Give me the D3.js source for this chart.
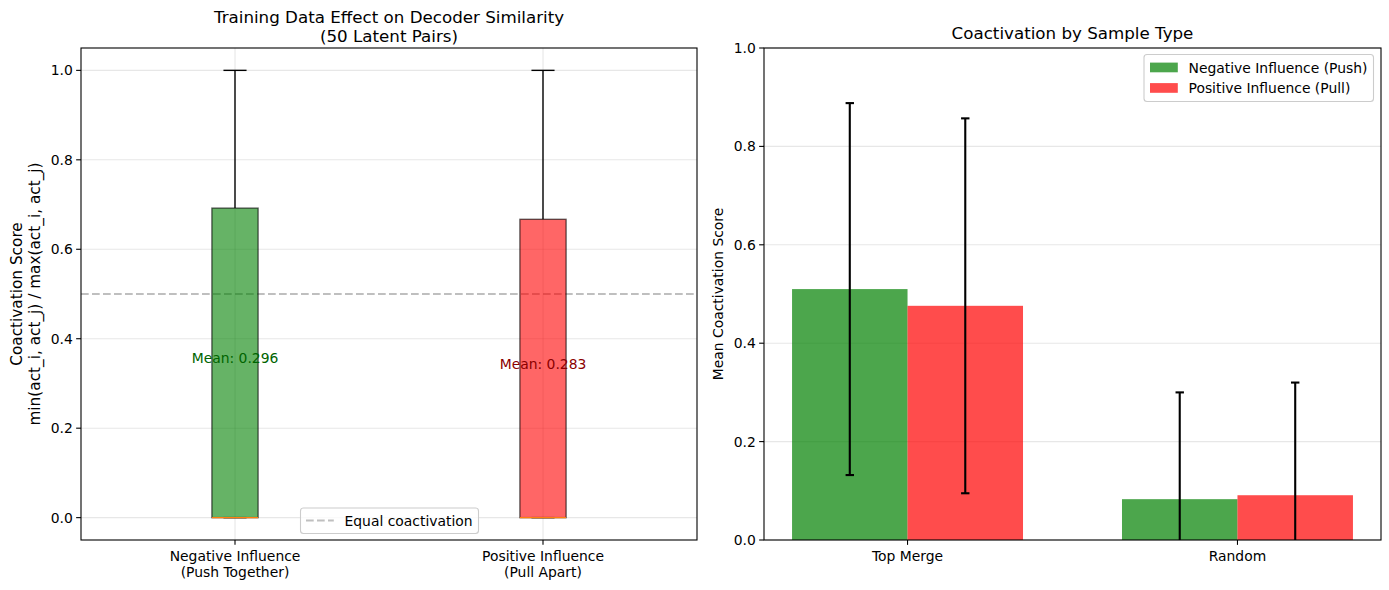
<!DOCTYPE html>
<html><head><meta charset="utf-8">
<script src="https://cdn.jsdelivr.net/npm/d3@7"></script>
<style>
html,body{margin:0;padding:0;background:#fff;}
text{font-family:"DejaVu Sans",sans-serif;fill:#000;}
</style></head>
<body>
<svg id="chart" width="1389" height="590"></svg>
<script>
// ---- Data ----
const boxCategories = [["Negative Influence","(Push Together)"],["Positive Influence","(Pull Apart)"]];
const boxQ1 = [0, 0];
const boxMedian = [0, 0];
const boxQ3 = [0.692, 0.667];
const whiskerLow = [0, 0];
const whiskerHigh = [1.0, 1.0];
const boxMeans = [0.296, 0.283];
const boxFill = ["green", "red"];
const meanColors = ["darkgreen", "darkred"];
const referenceLine = 0.5;

const barCategories = ["Top Merge", "Random"];
const negMeans = [0.510, 0.083];
const negStd = [0.378, 0.217];
const posMeans = [0.476, 0.091];
const posStd = [0.381, 0.229];
const seriesNames = ["Negative Influence (Push)", "Positive Influence (Pull)"];
const leftTicks = [0, 0.2, 0.4, 0.6, 0.8, 1.0];
const rightTicks = [0, 0.2, 0.4, 0.6, 0.8, 1.0];

// ---- Layout ----
const svg = d3.select("#chart");
const L = {x0: 81, x1: 697, y0: 48, y1: 540};
const R = {x0: 764, x1: 1381, y0: 48, y1: 540};
const tickFs = 13.9, titleFs = 16.7;
const gridColor = "#b0b0b0";

function spines(g, P){
  g.append("rect").attr("x",P.x0).attr("y",P.y0).attr("width",P.x1-P.x0).attr("height",P.y1-P.y0)
   .attr("fill","none").attr("stroke","#000").attr("stroke-width",1.1);
}

// ================= LEFT =================
const gL = svg.append("g");
const xL = d3.scaleLinear().domain([0.5, 2.5]).range([L.x0, L.x1]);
const yL = d3.scaleLinear().domain([-0.05, 1.05]).range([L.y1, L.y0]);
const pos = boxCategories.map((d,i)=>i+1);

// grid
gL.selectAll(".gy").data(leftTicks).enter().append("line")
  .attr("x1",L.x0).attr("x2",L.x1).attr("y1",d=>yL(d)).attr("y2",d=>yL(d))
  .attr("stroke",gridColor).attr("stroke-opacity",0.3).attr("stroke-width",1.1);
gL.selectAll(".gx").data(pos).enter().append("line")
  .attr("y1",L.y0).attr("y2",L.y1).attr("x1",d=>xL(d)).attr("x2",d=>xL(d))
  .attr("stroke",gridColor).attr("stroke-opacity",0.3).attr("stroke-width",1.1);

// reference line
gL.append("line").attr("x1",L.x0).attr("x2",L.x1).attr("y1",yL(referenceLine)).attr("y2",yL(referenceLine))
  .attr("stroke","gray").attr("stroke-opacity",0.5).attr("stroke-width",2.08).attr("stroke-dasharray","7.7,3.3");

const bw = 0.15;
pos.forEach((p,i)=>{
  const cx = xL(p);
  const hw = xL(p+bw/2)-xL(p);
  // whiskers
  gL.append("line").attr("x1",cx).attr("x2",cx).attr("y1",yL(boxQ3[i])).attr("y2",yL(whiskerHigh[i]))
    .attr("stroke","#000").attr("stroke-width",1.39);
  gL.append("line").attr("x1",cx).attr("x2",cx).attr("y1",yL(boxQ1[i])).attr("y2",yL(whiskerLow[i]))
    .attr("stroke","#000").attr("stroke-width",1.39);
  // caps
  gL.append("line").attr("x1",cx-hw/2).attr("x2",cx+hw/2).attr("y1",yL(whiskerHigh[i])).attr("y2",yL(whiskerHigh[i]))
    .attr("stroke","#000").attr("stroke-width",1.39);
  gL.append("line").attr("x1",cx-hw/2).attr("x2",cx+hw/2).attr("y1",yL(whiskerLow[i])).attr("y2",yL(whiskerLow[i]))
    .attr("stroke","#000").attr("stroke-width",1.39);
  // box
  gL.append("rect").attr("x",cx-hw).attr("width",2*hw)
    .attr("y",yL(boxQ3[i])).attr("height",yL(boxQ1[i])-yL(boxQ3[i]))
    .attr("fill",boxFill[i]).attr("fill-opacity",0.6)
    .attr("stroke","#000").attr("stroke-opacity",0.6).attr("stroke-width",1.39);
  // median
  gL.append("line").attr("x1",cx-hw).attr("x2",cx+hw).attr("y1",yL(boxMedian[i])).attr("y2",yL(boxMedian[i]))
    .attr("stroke","#ff7f0e").attr("stroke-width",1.39);
  // mean label
  gL.append("text").attr("x",cx).attr("y",yL(boxMeans[i]+0.06)).attr("text-anchor","middle")
    .attr("dominant-baseline","central").attr("font-size",tickFs).style("fill",meanColors[i])
    .text("Mean: " + boxMeans[i].toFixed(3));
});

spines(gL, L);

// y ticks
leftTicks.forEach(t=>{
  gL.append("line").attr("x1",L.x0-4.86).attr("x2",L.x0).attr("y1",yL(t)).attr("y2",yL(t)).attr("stroke","#000").attr("stroke-width",1.1);
  gL.append("text").attr("x",L.x0-8.2).attr("y",yL(t)).attr("text-anchor","end").attr("dominant-baseline","central")
    .attr("font-size",tickFs).text(d3.format(".1f")(t));
});
// x ticks
pos.forEach((p,i)=>{
  gL.append("line").attr("x1",xL(p)).attr("x2",xL(p)).attr("y1",L.y1).attr("y2",L.y1+4.86).attr("stroke","#000").attr("stroke-width",1.1);
  boxCategories[i].forEach((line,j)=>{
    gL.append("text").attr("x",xL(p)).attr("y",L.y1+21+j*16.3).attr("text-anchor","middle")
      .attr("font-size",tickFs).text(line);
  });
});
// y label
const ylL = gL.append("text").attr("transform",`translate(22,${(L.y0+L.y1)/2}) rotate(-90)`)
  .attr("text-anchor","middle").attr("font-size",15.3);
ylL.append("tspan").attr("x",0).attr("y",0).text("Coactivation Score");
ylL.append("tspan").attr("x",0).attr("y",18).text("min(act_i, act_j) / max(act_i, act_j)");
// title
gL.append("text").attr("x",(L.x0+L.x1)/2).attr("y",23).attr("text-anchor","middle").attr("font-size",titleFs)
  .text("Training Data Effect on Decoder Similarity");
gL.append("text").attr("x",(L.x0+L.x1)/2).attr("y",42).attr("text-anchor","middle").attr("font-size",titleFs)
  .text("(50 Latent Pairs)");
// legend
const lg = gL.append("g");
lg.append("rect").attr("x",300.5).attr("y",508).attr("width",178).attr("height",25.5).attr("rx",3)
  .attr("fill","#fff").attr("fill-opacity",0.8).attr("stroke","#cccccc").attr("stroke-width",1.1);
lg.append("line").attr("x1",306).attr("x2",333.8).attr("y1",520.5).attr("y2",520.5)
  .attr("stroke","gray").attr("stroke-opacity",0.5).attr("stroke-width",2.08).attr("stroke-dasharray","7.7,3.3");
lg.append("text").attr("x",344.5).attr("y",520.5).attr("dominant-baseline","central").attr("font-size",tickFs)
  .text("Equal coactivation");

// ================= RIGHT =================
const gR = svg.append("g");
const xR = d3.scaleLinear().domain([-0.435, 1.435]).range([R.x0, R.x1]);
const yR = d3.scaleLinear().domain([0, 1]).range([R.y1, R.y0]);
const width = 0.35;
const series = [
  {vals: negMeans, err: negStd, color: "green", off: -width/2, name: seriesNames[0]},
  {vals: posMeans, err: posStd, color: "red", off: width/2, name: seriesNames[1]}
];
// grid
gR.selectAll(".gy").data(rightTicks).enter().append("line")
  .attr("x1",R.x0).attr("x2",R.x1).attr("y1",d=>yR(d)).attr("y2",d=>yR(d))
  .attr("stroke",gridColor).attr("stroke-opacity",0.3).attr("stroke-width",1.1);

const clip = svg.append("defs").append("clipPath").attr("id","clipR");
clip.append("rect").attr("x",R.x0).attr("y",R.y0).attr("width",R.x1-R.x0).attr("height",R.y1-R.y0);
const plotR = gR.append("g").attr("clip-path","url(#clipR)");

series.forEach(s=>{
  barCategories.forEach((c,i)=>{
    const xc = i + s.off;
    plotR.append("rect").attr("x",xR(xc-width/2)).attr("width",xR(xc+width/2)-xR(xc-width/2))
      .attr("y",yR(s.vals[i])).attr("height",yR(0)-yR(s.vals[i]))
      .attr("fill",s.color).attr("fill-opacity",0.7);
  });
});
series.forEach(s=>{
  barCategories.forEach((c,i)=>{
    const cx = xR(i + s.off);
    const hi = s.vals[i]+s.err[i], lo = s.vals[i]-s.err[i];
    plotR.append("line").attr("x1",cx).attr("x2",cx).attr("y1",yR(lo)).attr("y2",yR(hi))
      .attr("stroke","#000").attr("stroke-width",2.1);
    [hi, lo].forEach(v=>{
      plotR.append("line").attr("x1",cx-4.2).attr("x2",cx+4.2).attr("y1",yR(v)).attr("y2",yR(v))
        .attr("stroke","#000").attr("stroke-width",2.1);
    });
  });
});

spines(gR, R);
rightTicks.forEach(t=>{
  gR.append("line").attr("x1",R.x0-4.86).attr("x2",R.x0).attr("y1",yR(t)).attr("y2",yR(t)).attr("stroke","#000").attr("stroke-width",1.1);
  gR.append("text").attr("x",R.x0-8.2).attr("y",yR(t)).attr("text-anchor","end").attr("dominant-baseline","central")
    .attr("font-size",tickFs).text(d3.format(".1f")(t));
});
barCategories.forEach((c,i)=>{
  gR.append("line").attr("x1",xR(i)).attr("x2",xR(i)).attr("y1",R.y1).attr("y2",R.y1+4.86).attr("stroke","#000").attr("stroke-width",1.1);
  gR.append("text").attr("x",xR(i)).attr("y",R.y1+21).attr("text-anchor","middle").attr("font-size",tickFs).text(c);
});
gR.append("text").attr("transform",`translate(718,${(R.y0+R.y1)/2}) rotate(-90)`)
  .attr("text-anchor","middle").attr("dominant-baseline","central").attr("font-size",tickFs)
  .text("Mean Coactivation Score");
gR.append("text").attr("x",(R.x0+R.x1)/2).attr("y",39).attr("text-anchor","middle").attr("font-size",titleFs)
  .text("Coactivation by Sample Type");
// legend
const lgR = gR.append("g");
const lgX = 1144, lgY = 54.5, lgW = 229.5, lgH = 47;
lgR.append("rect").attr("x",lgX).attr("y",lgY).attr("width",lgW).attr("height",lgH).attr("rx",3)
  .attr("fill","#fff").attr("fill-opacity",0.8).attr("stroke","#cccccc").attr("stroke-width",1.1);
series.forEach((s,j)=>{
  const cy = lgY + 13 + j*20.5;
  lgR.append("rect").attr("x",lgX+6).attr("y",cy-4.9).attr("width",27.8).attr("height",9.7)
    .attr("fill",s.color).attr("fill-opacity",0.7);
  lgR.append("text").attr("x",lgX+44.5).attr("y",cy).attr("dominant-baseline","central").attr("font-size",tickFs).text(s.name);
});
</script>
</body></html>
